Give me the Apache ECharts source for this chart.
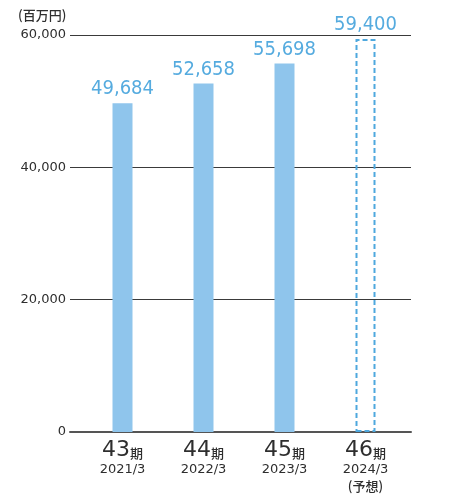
<!DOCTYPE html>
<html>
<head>
<meta charset="utf-8">
<style>
  html, body { margin: 0; padding: 0; background: #ffffff; }
  #chart { width: 461px; height: 494px; }
</style>
<script src="https://cdn.jsdelivr.net/npm/echarts@6/dist/echarts.min.js"></script>
</head>
<body>
<div id="chart"></div>
<script>
// Net sales by fiscal period (millions of yen); the last period is a forecast
const periods = ['43', '44', '45', '46'];
const fiscalYears = ['2021/3', '2022/3', '2023/3', '2024/3'];
const sales = [49684, 52658, 55698, 59400];
const forecastIndex = 3;
const yTicks = [0, 20000, 40000, 60000];
const unitLabel = '(百万円)';
const periodSuffix = '期';
const forecastNote = '(予想)';

const BLUE_FILL = '#8fc5ec';
const BLUE_TEXT = '#55abdf';
const BLUE_DASH = '#4ea8de';
const INK = '#2e2e2e';
const LATIN = "'DejaVu Sans', sans-serif";
const CJK = "'Noto Sans CJK JP', sans-serif";

const chart = echarts.init(document.getElementById('chart'), null, { renderer: 'canvas' });

const yMin = yTicks[0];
const yMax = yTicks[yTicks.length - 1];
const yStep = yTicks[1] - yTicks[0];

const barData = sales.map((v, i) => {
  if (i !== forecastIndex) return { value: v };
  return {
    value: v,
    itemStyle: {
      color: 'rgba(255,255,255,0)',
      borderColor: BLUE_DASH,
      borderWidth: 2,
      borderType: [5, 3]
    }
  };
});

const option = {
  animation: false,
  backgroundColor: '#ffffff',
  grid: [
    // wide grid carrying the y axis, gridlines and baseline
    { left: 70, right: 50, top: 35, bottom: 62 },
    // narrower grid that holds the bars
    { left: 82, width: 324, top: 35, bottom: 62 }
  ],
  graphic: [
    {
      type: 'text',
      left: 18,
      top: 9,
      style: { text: unitLabel, font: "500 13px " + CJK, fill: INK }
    }
  ],
  xAxis: [
    {
      gridIndex: 0,
      type: 'category',
      data: periods,
      axisLine: { show: true, lineStyle: { color: '#555555', width: 2 } },
      axisTick: { show: false },
      axisLabel: { show: false },
      splitLine: { show: false }
    },
    {
      gridIndex: 1,
      type: 'category',
      data: periods,
      axisLine: { show: false },
      axisTick: { show: false },
      axisLabel: {
        margin: 5,
        formatter: (val, idx) => {
          let s = '{n|' + val + '}{k|' + periodSuffix + '}\n{y|' + fiscalYears[idx] + '}';
          if (idx === forecastIndex) s += '\n{f|' + forecastNote + '}';
          return s;
        },
        rich: {
          n: { fontFamily: LATIN, fontSize: 22, color: INK, lineHeight: 24, verticalAlign: 'bottom' },
          k: { fontFamily: CJK, fontSize: 13, fontWeight: 500, color: INK, lineHeight: 24, verticalAlign: 'bottom', padding: [0, 0, 1, 0] },
          y: { fontFamily: LATIN, fontSize: 13, color: INK, lineHeight: 18 },
          f: { fontFamily: CJK, fontSize: 13, fontWeight: 500, color: INK, lineHeight: 14 }
        }
      }
    }
  ],
  yAxis: [
    {
      gridIndex: 0,
      type: 'value',
      min: yMin,
      max: yMax,
      interval: yStep,
      axisLine: { show: false },
      axisTick: { show: false },
      axisLabel: {
        margin: 4,
        fontFamily: LATIN,
        fontSize: 13,
        color: INK,
        formatter: v => v.toLocaleString('en-US')
      },
      splitLine: { show: true, lineStyle: { color: '#3a3a3a', width: 1 } }
    },
    {
      gridIndex: 1,
      type: 'value',
      min: yMin,
      max: yMax,
      interval: yStep,
      show: false,
      splitLine: { show: false }
    }
  ],
  series: [
    {
      type: 'bar',
      xAxisIndex: 1,
      yAxisIndex: 1,
      data: barData,
      barWidth: 20,
      itemStyle: { color: BLUE_FILL },
      label: {
        show: true,
        position: 'top',
        distance: 4,
        fontFamily: "'DejaVu Sans Condensed', 'DejaVu Sans', sans-serif",
        fontSize: 20,
        color: BLUE_TEXT,
        formatter: p => p.value.toLocaleString('en-US')
      }
    }
  ]
};

chart.setOption(option);
</script>
</body>
</html>
